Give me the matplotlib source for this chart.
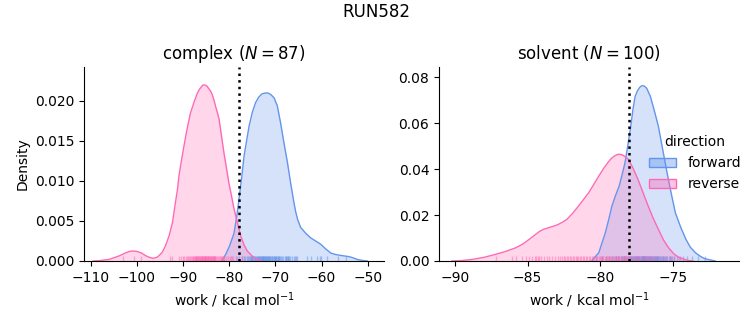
import matplotlib
matplotlib.use("Agg")
import matplotlib.pyplot as plt
from matplotlib.patches import Patch
from matplotlib.colors import to_rgba

# ---- data ----
title = "RUN582"
phases = ["complex", "solvent"]
n_samples = [87, 100]
directions = ["forward", "reverse"]
dg_estimates = [-77.9, -78.05]

# KDE curves (work, density)
cx_fwd_x = [-81.6, -80.8, -80.0, -79.5, -79.0, -78.4, -77.9, -77.3, -76.8, -76.2, -75.7, -75.0, -74.3, -73.6,
            -72.9, -72.2, -71.6, -71.0, -70.3, -69.6, -68.9, -68.2, -67.4, -66.7, -66.0, -65.6, -65.2, -64.55,
            -63.5, -62.4, -61.3, -60.2, -59.1, -58.05, -56.9, -55.9, -54.1, -53.2, -52.3, -51.2, -50.1]
cx_fwd_y = [0.0, 0.0008, 0.0018, 0.0026, 0.0034, 0.0055, 0.0077, 0.0105, 0.0131, 0.0152, 0.0169, 0.0186, 0.0198, 0.0205,
            0.0209, 0.0210, 0.0210, 0.0208, 0.0204, 0.0194, 0.0173, 0.0149, 0.0123, 0.0097, 0.0073, 0.0061, 0.0052, 0.0042,
            0.0035, 0.0029, 0.0025, 0.0021, 0.0015, 0.0010, 0.0008, 0.0007, 0.00055, 0.0004, 0.0002, 0.00007, 0.0]
cx_rev_x = [-109.5, -108.0, -106.0, -104.0, -102.5, -101.6, -100.8, -100.0, -99.0, -98.2, -97.5, -96.5, -95.5,
            -94.5, -93.8, -93.0, -92.3, -91.6, -91.2, -90.9, -90.4, -89.8, -89.2, -88.4, -87.6, -86.9, -86.4, -86.0,
            -85.7, -85.3, -84.9, -84.5, -84.1, -83.7, -83.3, -82.9, -82.5, -82.2, -81.7, -81.15, -80.6, -80.1, -79.5,
            -79.0, -78.2, -77.5, -76.8, -76.1, -75.0, -73.9, -73.0]
cx_rev_y = [0.0, 0.00005, 0.0002, 0.0006, 0.0010, 0.0012, 0.00125, 0.0012, 0.0010, 0.0007, 0.0005, 0.00033, 0.0005,
            0.0011, 0.0019, 0.0032, 0.0048, 0.0075, 0.0090, 0.0106, 0.0124, 0.0144, 0.0163, 0.0185, 0.0199, 0.0210, 0.0215, 0.0218,
            0.0220, 0.0220, 0.0219, 0.0216, 0.0213, 0.0208, 0.0201, 0.0192, 0.0184, 0.0177, 0.0157, 0.0135, 0.0116, 0.0098, 0.0081,
            0.0066, 0.0047, 0.0031, 0.0020, 0.00125, 0.0006, 0.0002, 0.0]
sv_fwd_x = [-80.6, -80.1, -79.9, -79.65, -79.4, -79.2, -78.95, -78.7, -78.5, -78.3, -78.1, -77.9, -77.75, -77.6,
            -77.45, -77.3, -77.18, -77.06, -76.93, -76.8, -76.7, -76.55, -76.3, -76.0, -75.7, -75.4, -75.1, -74.83,
            -74.45, -74.1, -73.8, -73.45, -73.1, -72.8, -72.1]
sv_fwd_y = [0.0, 0.0036, 0.0075, 0.0123, 0.0185, 0.0239, 0.0285, 0.0326, 0.0375, 0.0427, 0.0505, 0.0587, 0.0660, 0.0717,
            0.0740, 0.0755, 0.0762, 0.0764, 0.0760, 0.0752, 0.0738, 0.0717, 0.0660, 0.0587, 0.0485, 0.0384, 0.0290, 0.0210,
            0.0145, 0.0094, 0.0060, 0.0036, 0.0020, 0.0010, 0.0]
sv_rev_x = [-90.2, -89.5, -88.8, -88.0, -87.2, -86.5, -85.8, -85.3, -84.9, -84.55, -84.2, -83.9, -83.55, -83.2,
            -82.9, -82.6, -82.3, -81.9, -81.5, -81.15, -80.8, -80.45, -80.1, -79.75, -79.4, -79.2, -79.0, -78.85,
            -78.7, -78.55, -78.4, -78.25, -78.05, -77.75, -77.4, -77.05, -76.7, -76.35, -76.0, -75.65, -75.3,
            -74.95, -74.6, -74.0, -73.6]
sv_rev_y = [0.0, 0.0002, 0.0007, 0.0016, 0.0029, 0.0042, 0.0058, 0.0075, 0.0094, 0.0111, 0.0128, 0.0138, 0.0145, 0.0152,
            0.0159, 0.0169, 0.0181, 0.0208, 0.0239, 0.0268, 0.0297, 0.0333, 0.0370, 0.0405, 0.0435, 0.0449, 0.0458, 0.0463,
            0.0465, 0.0464, 0.0459, 0.0453, 0.0442, 0.0405, 0.0355, 0.0297, 0.0239, 0.0185, 0.0138, 0.0092, 0.0058,
            0.0032, 0.0016, 0.0003, 0.0]

# individual work values (rug)
cx_fwd_work = [-78.6, -77.9, -77.3,
               -76.8, -76.5, -76.2, -76.0, -75.8, -75.6, -75.4, -75.3, -75.1, -75.0,
               -74.9, -74.7, -74.5, -74.4, -74.2, -74.1, -74.0, -73.8, -73.7, -73.6, -73.5, -73.4, -73.3, -73.2, -73.1, -73.0,
               -72.9, -72.8, -72.7, -72.6, -72.5, -72.4, -72.3, -72.2, -72.1, -72.0, -71.9, -71.8, -71.7, -71.6, -71.5, -71.4, -71.2, -71.1,
               -70.9, -70.8, -70.7, -70.5, -70.4, -70.3, -70.2, -70.0, -69.9, -69.8, -69.7, -69.5, -69.4, -69.3, -69.2, -69.1,
               -68.8, -68.5, -68.3, -68.0, -67.8, -67.7, -67.5, -67.3, -67.2, -67.1,
               -66.8, -66.4, -66.0, -65.8, -65.5, -65.3,
               -63.1, -62.3, -61.0, -60.1, -60.4,
               -58.8, -56.5, -54.8]
cx_rev_work = [-102.9, -100.6, -99.2,
               -92.8, -92.3,
               -90.8, -90.4, -90.0, -89.7, -89.4, -89.1,
               -88.9, -88.7, -88.5, -88.3, -88.1, -87.9, -87.8, -87.6, -87.5, -87.4, -87.3, -87.2, -87.1, -87.0,
               -86.9, -86.8, -86.7, -86.6, -86.5, -86.4, -86.3, -86.2, -86.1, -86.0, -85.9, -85.8, -85.7, -85.6,
               -85.5, -85.4, -85.3, -85.25, -85.2, -85.15, -85.1, -85.05,
               -84.9, -84.8, -84.7, -84.6, -84.5, -84.4, -84.3, -84.2, -84.1, -84.0, -83.9, -83.8, -83.7, -83.6,
               -83.5, -83.4, -83.3, -83.2, -83.1, -83.0,
               -82.8, -82.6, -82.4, -82.2, -82.0, -81.8, -81.7, -81.5, -81.4, -81.3, -81.2, -81.1,
               -80.7, -80.3, -79.9, -79.6, -79.3, -79.1,
               -78.4, -77.2]
sv_fwd_work = [-80.3, -79.9, -79.6, -79.4, -79.2, -79.05,
               -78.95, -78.9, -78.8, -78.7, -78.6, -78.5, -78.45, -78.4, -78.35, -78.3, -78.2, -78.15, -78.1, -78.05,
               -77.98, -77.93, -77.88, -77.85, -77.79, -77.76, -77.72, -77.66, -77.63, -77.61, -77.55, -77.52, -77.48,
               -77.46, -77.41, -77.38, -77.33, -77.31, -77.27, -77.22, -77.19, -77.16, -77.12, -77.09, -77.07, -77.05,
               -77.03, -77.02, -77.01, -77.0,
               -76.97, -76.94, -76.9, -76.86, -76.83, -76.81, -76.77, -76.73, -76.7, -76.66, -76.62, -76.59, -76.55,
               -76.52, -76.48, -76.44, -76.41, -76.37, -76.33, -76.29, -76.26, -76.22, -76.18, -76.14, -76.11, -76.07,
               -76.04, -76.01,
               -75.95, -75.9, -75.84, -75.77, -75.71, -75.66, -75.58, -75.52, -75.45, -75.38, -75.3, -75.22, -75.14, -75.05,
               -74.9, -74.7, -74.5, -74.3, -74.0, -73.7, -73.3,
               -72.8]
sv_rev_work = [-87.2, -86.1,
               -85.8, -85.4, -85.1, -84.9, -84.7, -84.5, -84.4, -84.3, -84.2, -84.1,
               -83.9, -83.7, -83.5, -83.3, -83.1, -82.9, -82.8, -82.6, -82.5, -82.4, -82.3, -82.2, -82.1, -82.0,
               -81.9, -81.8, -81.7, -81.6, -81.5, -81.4, -81.3, -81.2, -81.1, -81.0, -80.9, -80.8, -80.7, -80.6,
               -80.5, -80.4, -80.3, -80.2, -80.1, -80.05,
               -79.95, -79.9, -79.85, -79.8, -79.7, -79.6, -79.55, -79.5, -79.4, -79.3, -79.25, -79.2, -79.1, -79.0,
               -78.95, -78.9, -78.8, -78.75, -78.7, -78.6, -78.55, -78.5, -78.4, -78.35, -78.3, -78.25, -78.2, -78.1,
               -78.05, -78.0,
               -77.9, -77.8, -77.7, -77.6, -77.5, -77.4, -77.3, -77.2, -77.1, -77.0, -76.9, -76.8, -76.7, -76.6,
               -76.5, -76.4, -76.3, -76.1,
               -75.9, -75.7, -75.5, -75.2, -74.9, -74.6]

cx_xticks = [-110, -100, -90, -80, -70, -60, -50]
cx_yticks = [0.0, 0.005, 0.010, 0.015, 0.020]
sv_xticks = [-90, -85, -80, -75]
sv_yticks = [0.0, 0.02, 0.04, 0.06, 0.08]

# ---- styling ----
colors = {"forward": "cornflowerblue", "reverse": "hotpink"}

fig = plt.figure(figsize=(7.53, 3.25), dpi=100)
ax1 = fig.add_axes([84 / 753, 1 - 261 / 325, 300 / 753, 194 / 325])
ax2 = fig.add_axes([439 / 753, 1 - 261 / 325, 300 / 753, 194 / 325])

panels = [
    (ax1, {"forward": (cx_fwd_x, cx_fwd_y, cx_fwd_work), "reverse": (cx_rev_x, cx_rev_y, cx_rev_work)},
     (-111.45, -46.5), (0, 0.02425), cx_xticks, cx_yticks, "{:.3f}"),
    (ax2, {"forward": (sv_fwd_x, sv_fwd_y, sv_fwd_work), "reverse": (sv_rev_x, sv_rev_y, sv_rev_work)},
     (-91.1, -70.45), (0, 0.0845), sv_xticks, sv_yticks, "{:.2f}"),
]

for i, (ax, curves, xlim, ylim, xt, yt, fmt) in enumerate(panels):
    for d in directions:
        x, y, w = curves[d]
        c = colors[d]
        ax.fill_between(x, y, 0, color=c, alpha=0.27, lw=0)
        ax.plot(x, y, color=c, lw=1.0, solid_joinstyle="round")
        ax.vlines(w, 0, 0.025, transform=ax.get_xaxis_transform(), color=c, alpha=0.5, lw=1.0)
    ax.axvline(dg_estimates[i], color="black", ls=":", lw=1.8)
    ax.set_xlim(*xlim)
    ax.set_ylim(*ylim)
    ax.set_xticks(xt)
    ax.set_yticks(yt)
    ax.set_yticklabels([fmt.format(v) for v in yt])
    ax.spines["top"].set_visible(False)
    ax.spines["right"].set_visible(False)
    ax.set_xlabel("work / kcal mol$^{-1}$")
    ax.set_title(f"{phases[i]} ($N = {n_samples[i]}$)")

ax1.set_ylabel("Density")

handles = [Patch(facecolor=to_rgba(colors[d], 0.4), edgecolor=colors[d], lw=1) for d in directions]
fig.legend(handles, directions, title="direction", frameon=False, loc="upper left",
           bbox_to_anchor=(636 / 753, 1 - 123 / 325), fontsize=10, title_fontsize=10)

fig.suptitle(title, fontsize=12, y=1 - 3 / 325, va="top")

fig.savefig("out.png", dpi=100)
